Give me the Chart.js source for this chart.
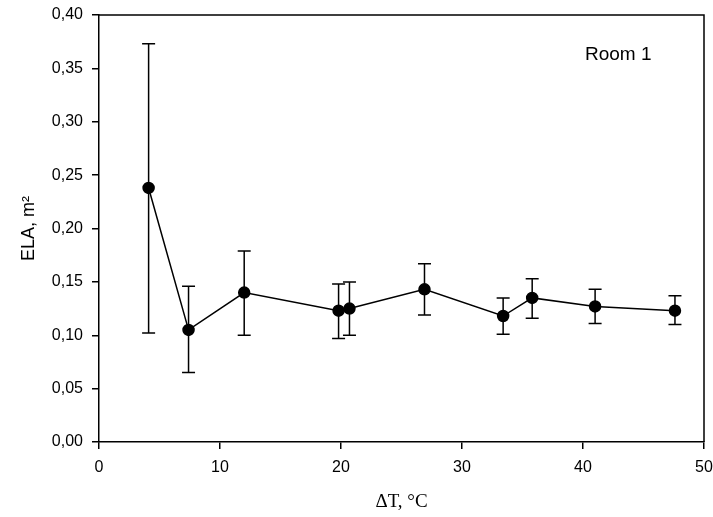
<!DOCTYPE html>
<html>
<head>
<meta charset="utf-8">
<script src="https://cdn.jsdelivr.net/npm/chart.js@4/dist/chart.umd.min.js"></script>
<style>
  html, body { margin: 0; padding: 0; background: #fff; }
  #wrap { width: 713px; height: 517px; }
</style>
</head>
<body>
<div id="wrap"><canvas id="ela"></canvas></div>
<script>
const deltaT = [4.1, 7.4, 12.0, 19.8, 20.7, 26.9, 33.4, 35.8, 41.0, 47.6];
const ela = [0.238, 0.105, 0.140, 0.123, 0.125, 0.143, 0.118, 0.135, 0.127, 0.123];
const elaUpper = [0.373, 0.146, 0.179, 0.148, 0.150, 0.167, 0.135, 0.153, 0.143, 0.137];
const elaLower = [0.102, 0.065, 0.100, 0.097, 0.100, 0.119, 0.101, 0.116, 0.111, 0.110];
const roomLabel = "Room 1";

const FONT = "'Liberation Sans', Arial, sans-serif";
const SERIF = "'Liberation Serif', 'Times New Roman', serif";

// error bars + frame + room label
const extras = {
  id: 'extras',
  beforeDatasetsDraw(chart) {
    const ctx = chart.ctx;
    const xs = chart.scales.x, ys = chart.scales.y;
    ctx.save();
    ctx.strokeStyle = '#000';
    ctx.lineWidth = 1.5;
    deltaT.forEach((t, i) => {
      const px = xs.getPixelForValue(t);
      const top = ys.getPixelForValue(elaUpper[i]);
      const bot = ys.getPixelForValue(elaLower[i]);
      ctx.beginPath();
      ctx.moveTo(px, top); ctx.lineTo(px, bot);
      ctx.moveTo(px - 6.5, top); ctx.lineTo(px + 6.5, top);
      ctx.moveTo(px - 6.5, bot); ctx.lineTo(px + 6.5, bot);
      ctx.stroke();
    });
    ctx.restore();
  },
  afterDraw(chart) {
    const ctx = chart.ctx;
    const a = chart.chartArea;
    ctx.save();
    ctx.strokeStyle = '#000';
    ctx.lineWidth = 1.5;
    ctx.beginPath();
    ctx.moveTo(a.left, a.top); ctx.lineTo(a.right, a.top); ctx.lineTo(a.right, a.bottom);
    ctx.stroke();
    ctx.fillStyle = '#000';
    ctx.font = '19px ' + FONT;
    ctx.textAlign = 'left';
    ctx.textBaseline = 'middle';
    ctx.fillText(roomLabel, 585, 55);
    ctx.restore();
  }
};

new Chart(document.getElementById('ela'), {
  type: 'scatter',
  data: {
    datasets: [{
      data: deltaT.map((t, i) => ({ x: t, y: ela[i] })),
      showLine: true,
      borderColor: '#000',
      borderWidth: 1.5,
      backgroundColor: '#000',
      pointRadius: 5.5,
      pointHoverRadius: 5.5
    }]
  },
  options: {
    responsive: true,
    maintainAspectRatio: false,
    animation: false,
    layout: { padding: { top: 15, right: 9, left: 14, bottom: 0 } },
    plugins: { legend: { display: false }, tooltip: { enabled: false } },
    scales: {
      x: {
        type: 'linear',
        min: 0, max: 50,
        afterFit(s) { s.height = 75; s.paddingLeft = 0; s.paddingRight = 0; },
        border: { color: '#000', width: 1.5 },
        grid: { drawOnChartArea: false, drawTicks: true, tickLength: 7, color: '#000', lineWidth: 1.5 },
        ticks: { stepSize: 10, color: '#000', font: { family: FONT, size: 16 }, padding: 9 },
        title: { display: true, text: 'ΔT, °C', color: '#000', font: { family: SERIF, size: 19 }, padding: { top: 8 } }
      },
      y: {
        min: 0, max: 0.40,
        afterFit(s) { s.width = 85; s.paddingTop = 0; s.paddingBottom = 0; },
        border: { color: '#000', width: 1.5 },
        grid: { drawOnChartArea: false, drawTicks: true, tickLength: 7, color: '#000', lineWidth: 1.5 },
        ticks: {
          stepSize: 0.05, color: '#000', font: { family: FONT, size: 16 }, padding: 9,
          callback: v => v.toFixed(2).replace('.', ',')
        },
        title: { display: true, text: 'ELA, m²', color: '#000', font: { family: FONT, size: 18 }, padding: { bottom: 4 } }
      }
    }
  },
  plugins: [extras]
});
</script>
</body>
</html>
